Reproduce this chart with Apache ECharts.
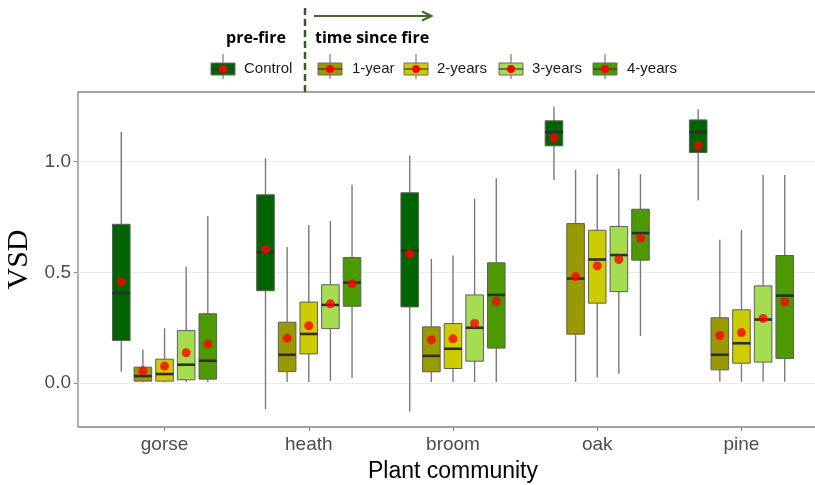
<!DOCTYPE html>
<html>
<head>
<meta charset="utf-8">
<script src="https://cdn.jsdelivr.net/npm/echarts@6/dist/echarts.min.js"></script>
<style>html,body{margin:0;padding:0;background:#fff}#chart{width:815px;height:485px}</style>
</head>
<body>
<div id="chart"></div>
<script>
// ---- data ----
const categories = ['gorse', 'heath', 'broom', 'oak', 'pine'];
const groupNames = ['Control', '1-year', '2-years', '3-years', '4-years'];
const yTickValues = [0, 0.5, 1.0];
// each box: [lower whisker, Q1, median, Q3, upper whisker]
const controlBoxes = [[0.051,0.192,0.407,0.717,1.133],[-0.117,0.417,0.591,0.850,1.015],[-0.128,0.344,0.598,0.859,1.027],[0.917,1.071,1.133,1.184,1.248],[0.824,1.041,1.133,1.188,1.236]];
const controlMeans = [0.458,0.603,0.583,1.106,1.071];
const year1Boxes = [[0.004,0.009,0.032,0.072,0.152],[0.005,0.052,0.128,0.275,0.614],[0.005,0.051,0.123,0.254,0.561],[0.006,0.221,0.472,0.720,0.963],[0.006,0.060,0.128,0.295,0.647]];
const year1Means = [0.056,0.203,0.195,0.481,0.215];
const year2Boxes = [[0.004,0.009,0.041,0.108,0.248],[0.005,0.132,0.222,0.366,0.714],[0.005,0.066,0.155,0.269,0.576],[0.025,0.361,0.558,0.690,0.943],[0.006,0.090,0.180,0.331,0.692]];
const year2Means = [0.077,0.259,0.200,0.529,0.228];
const year3Boxes = [[0.004,0.015,0.083,0.237,0.526],[0.010,0.246,0.353,0.444,0.732],[0.005,0.099,0.250,0.398,0.832],[0.042,0.413,0.578,0.707,0.968],[0.006,0.095,0.287,0.439,0.941]];
const year3Means = [0.137,0.358,0.269,0.558,0.292];
const year4Boxes = [[0.004,0.018,0.101,0.313,0.754],[0.023,0.347,0.454,0.567,0.895],[0.005,0.158,0.398,0.543,0.925],[0.213,0.555,0.677,0.785,0.943],[0.006,0.111,0.395,0.576,0.939]];
const year4Means = [0.177,0.449,0.368,0.654,0.366];

const allBoxes = [controlBoxes, year1Boxes, year2Boxes, year3Boxes, year4Boxes];
const allMeans = [controlMeans, year1Means, year2Means, year3Means, year4Means];
const groupColors = ['#006400', '#999900', '#cccc00', '#a6dd50', '#4c9900'];

// ---- layout constants ----
const dodge = 0.15, boxW = 0.122;

const chart = echarts.init(document.getElementById('chart'), null, {renderer: 'canvas'});

function makeRender(color) {
  return function (params, api) {
    const x = api.value(0);
    const lo = api.coord([x, api.value(1)]);
    const q1 = api.coord([x, api.value(2)]);
    const md = api.coord([x, api.value(3)]);
    const q3 = api.coord([x, api.value(4)]);
    const hi = api.coord([x, api.value(5)]);
    const hw = api.size([boxW, 0])[0] / 2;
    const cx = lo[0];
    return {
      type: 'group',
      children: [
        {type: 'line', shape: {x1: cx, y1: hi[1], x2: cx, y2: q3[1]}, style: {stroke: '#7a7a7a', lineWidth: 1.4}},
        {type: 'line', shape: {x1: cx, y1: q1[1], x2: cx, y2: lo[1]}, style: {stroke: '#7a7a7a', lineWidth: 1.4}},
        {type: 'rect', shape: {x: cx - hw, y: q3[1], width: hw * 2, height: q1[1] - q3[1]}, style: {fill: color, stroke: '#5e5e5e', lineWidth: 1}},
        {type: 'line', shape: {x1: cx - hw, y1: md[1], x2: cx + hw, y2: md[1]}, style: {stroke: '#2e2e2e', lineWidth: 2.6}}
      ]
    };
  };
}

const series = [];
groupNames.forEach((g, gi) => {
  const off = (gi - 2) * dodge;
  series.push({
    name: g, type: 'custom', renderItem: makeRender(groupColors[gi]),
    encode: {x: 0, y: [1, 2, 3, 4, 5]},
    data: allBoxes[gi].map((b, ci) => [ci + off].concat(b)),
    z: 2, clip: false
  });
});
groupNames.forEach((g, gi) => {
  const off = (gi - 2) * dodge;
  series.push({
    name: g + ' mean', type: 'scatter', symbol: 'circle', symbolSize: 9,
    itemStyle: {color: '#ff0000'},
    data: allMeans[gi].map((m, ci) => [ci + off, m]),
    z: 5, silent: true
  });
});

// ---- legend drawn as graphics ----
const legendIconX = [211, 318, 404, 499, 593];
const legendTextX = [244, 352, 437, 532, 627];
const legendY = 69;
const graphics = [];
groupNames.forEach((g, gi) => {
  const x0 = legendIconX[gi];
  graphics.push(
    {type: 'line', shape: {x1: x0 + 12, y1: legendY - 15, x2: x0 + 12, y2: legendY + 10}, style: {stroke: '#7a7a7a', lineWidth: 1.2}, z: 10},
    {type: 'rect', shape: {x: x0, y: legendY - 6, width: 24, height: 12}, style: {fill: groupColors[gi], stroke: '#6a6a6a', lineWidth: 1}, z: 11},
    {type: 'line', shape: {x1: x0, y1: legendY, x2: x0 + 24, y2: legendY}, style: {stroke: '#333', lineWidth: 1.2}, z: 12},
    {type: 'circle', shape: {cx: x0 + 12, cy: legendY, r: 4}, style: {fill: '#ff0000'}, z: 13},
    {type: 'text', x: legendTextX[gi], y: legendY, style: {text: g, font: '15px "Liberation Sans", Arial, sans-serif', fill: '#1a1a1a', textVerticalAlign: 'middle', textAlign: 'left'}, z: 13}
  );
});
graphics.push(
  {type: 'text', x: 256, y: 38, style: {text: 'pre-fire', font: 'bold 16px "Open Sans", sans-serif', fill: '#000', textAlign: 'center', textVerticalAlign: 'middle'}},
  {type: 'text', x: 315, y: 38, style: {text: 'time since fire', font: 'bold 16px "Open Sans", sans-serif', fill: '#000', textAlign: 'left', textVerticalAlign: 'middle'}},
  {type: 'line', shape: {x1: 305, y1: 8, x2: 305, y2: 92}, style: {stroke: '#2f5e22', lineWidth: 2.5, lineDash: [7, 4]}},
  {type: 'line', shape: {x1: 314, y1: 16, x2: 431, y2: 16}, style: {stroke: '#3f6b2e', lineWidth: 2}},
  {type: 'polyline', shape: {points: [[422, 11.5], [431.5, 16], [422, 20.5]]}, style: {stroke: '#3f6b2e', lineWidth: 2, fill: null}}
);

const option = {
  backgroundColor: '#ffffff',
  animation: false,
  grid: {left: 78, top: 92, width: 750, height: 335, show: true, borderColor: '#858585', borderWidth: 1.3, backgroundColor: 'transparent', containLabel: false, outerBoundsMode: 'none'},
  xAxis: {
    type: 'value', min: -0.6, max: 4.6,
    name: 'Plant community', nameLocation: 'middle', nameGap: 33,
    nameTextStyle: {fontFamily: '"Liberation Sans", Arial, sans-serif', fontSize: 23, color: '#000'},
    axisLine: {show: false, onZero: false},
    axisTick: {show: true, customValues: [0, 1, 2, 3, 4], length: 4, lineStyle: {color: '#858585', width: 1}},
    axisLabel: {customValues: [0, 1, 2, 3, 4], formatter: v => categories[Math.round(v)], fontFamily: '"Liberation Sans", Arial, sans-serif', fontSize: 19, color: '#4d4d4d', margin: 8},
    splitLine: {show: false}
  },
  yAxis: {
    type: 'value', min: -0.198, max: 1.314,
    name: 'VSD', nameLocation: 'middle', nameGap: 39, nameRotate: 90,
    nameTextStyle: {fontFamily: '"Liberation Serif", "Times New Roman", serif', fontSize: 30, color: '#000'},
    axisLine: {show: false, onZero: false},
    axisTick: {show: true, customValues: yTickValues, length: 4, lineStyle: {color: '#858585', width: 1}},
    axisLabel: {customValues: yTickValues, formatter: v => v.toFixed(1), fontFamily: '"Liberation Sans", Arial, sans-serif', fontSize: 19, color: '#4d4d4d', margin: 7},
    splitLine: {show: true, lineStyle: {color: '#ebebeb', width: 1}}
  },
  graphic: graphics,
  series: series
};
chart.setOption(option);
</script>
</body>
</html>
